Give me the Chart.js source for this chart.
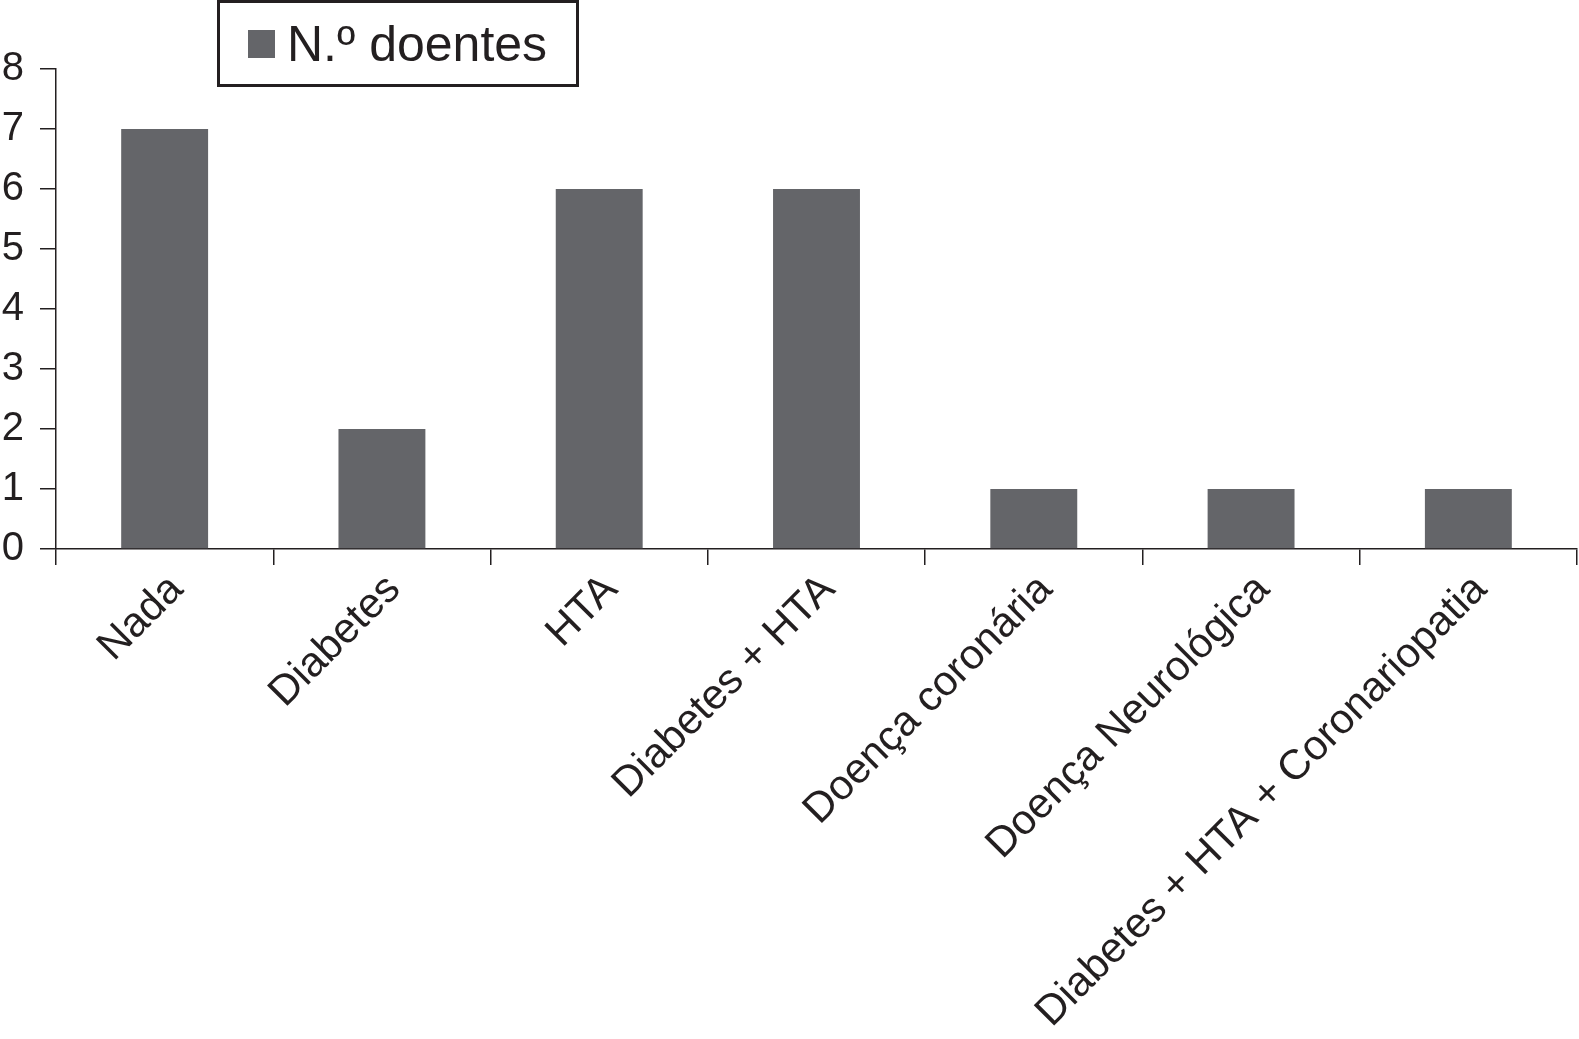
<!DOCTYPE html>
<html>
<head>
<meta charset="utf-8">
<script src="https://cdn.jsdelivr.net/npm/chart.js@4/dist/chart.umd.min.js"></script>
<style>
  html,body{margin:0;padding:0;background:#fff}
  #wrap{position:relative;width:1579px;height:1039px}
  #legend{position:absolute;left:217px;top:0;width:356px;height:81px;border:3px solid #231f20;
    font-family:"Liberation Sans",Arial,sans-serif;font-size:50px;color:#231f20;display:flex;align-items:center}
  #legend .sw{display:inline-block;width:27px;height:28px;margin-left:28px;margin-right:12px}
</style>
</head>
<body>
<div id="wrap">
  <canvas id="c" width="1579" height="1039"></canvas>
  <div id="legend"></div>
</div>
<script>
const categories = ['Nada','Diabetes','HTA','Diabetes + HTA','Doença coronária','Doença Neurológica','Diabetes + HTA + Coronariopatia'];
const doentes = [7, 2, 6, 6, 1, 1, 1];
const seriesLabel = 'N.º doentes';
const yTicks = [0,1,2,3,4,5,6,7,8];

const ink = '#231f20';
const barColor = '#646569';
const font = '"Liberation Sans", Arial, sans-serif';

// simple html legend built from the chart data
const htmlLegend = {
  id: 'htmlLegend',
  afterUpdate(chart) {
    const box = document.getElementById('legend'); box.innerHTML = '';
    chart.data.datasets.forEach(ds => {
      const sw = document.createElement('span'); sw.className = 'sw'; sw.style.background = ds.backgroundColor;
      const t = document.createElement('span'); t.textContent = ds.label;
      box.appendChild(sw); box.appendChild(t);
    });
  }
};

new Chart(document.getElementById('c'), {
  type: 'bar',
  data: {
    labels: categories,
    datasets: [{ label: seriesLabel, data: doentes, backgroundColor: barColor,
      categoryPercentage: 1, barPercentage: 0.4 }]
  },
  options: {
    responsive: false, animation: false, devicePixelRatio: 1,
    layout: { padding: { top: 69, right: 2, bottom: 0, left: 0 } },
    plugins: { legend: { display: false }, tooltip: { enabled: false } },
    scales: {
      x: {
        grid: { offset: true, drawOnChartArea: false, drawTicks: true, tickLength: 16, color: ink, lineWidth: 1.5 },
        border: { color: ink, width: 1.5 },
        ticks: { color: ink, font: { family: font, size: 42 }, minRotation: 45, maxRotation: 45, padding: 0, labelOffset: 12, autoSkip: false },
        afterFit(s) { s.height = 490; }
      },
      y: {
        min: 0, max: 8,
        afterBuildTicks(s) { s.ticks = yTicks.map(v => ({ value: v })); },
        grid: { drawOnChartArea: false, drawTicks: true, tickLength: 16, color: ink, lineWidth: 1.5 },
        border: { color: ink, width: 1.5 },
        ticks: { color: ink, font: { family: font, size: 40 }, padding: 16 },
        afterFit(s) { s.width = 56; }
      }
    }
  },
  plugins: [htmlLegend]
});
</script>
</body>
</html>
